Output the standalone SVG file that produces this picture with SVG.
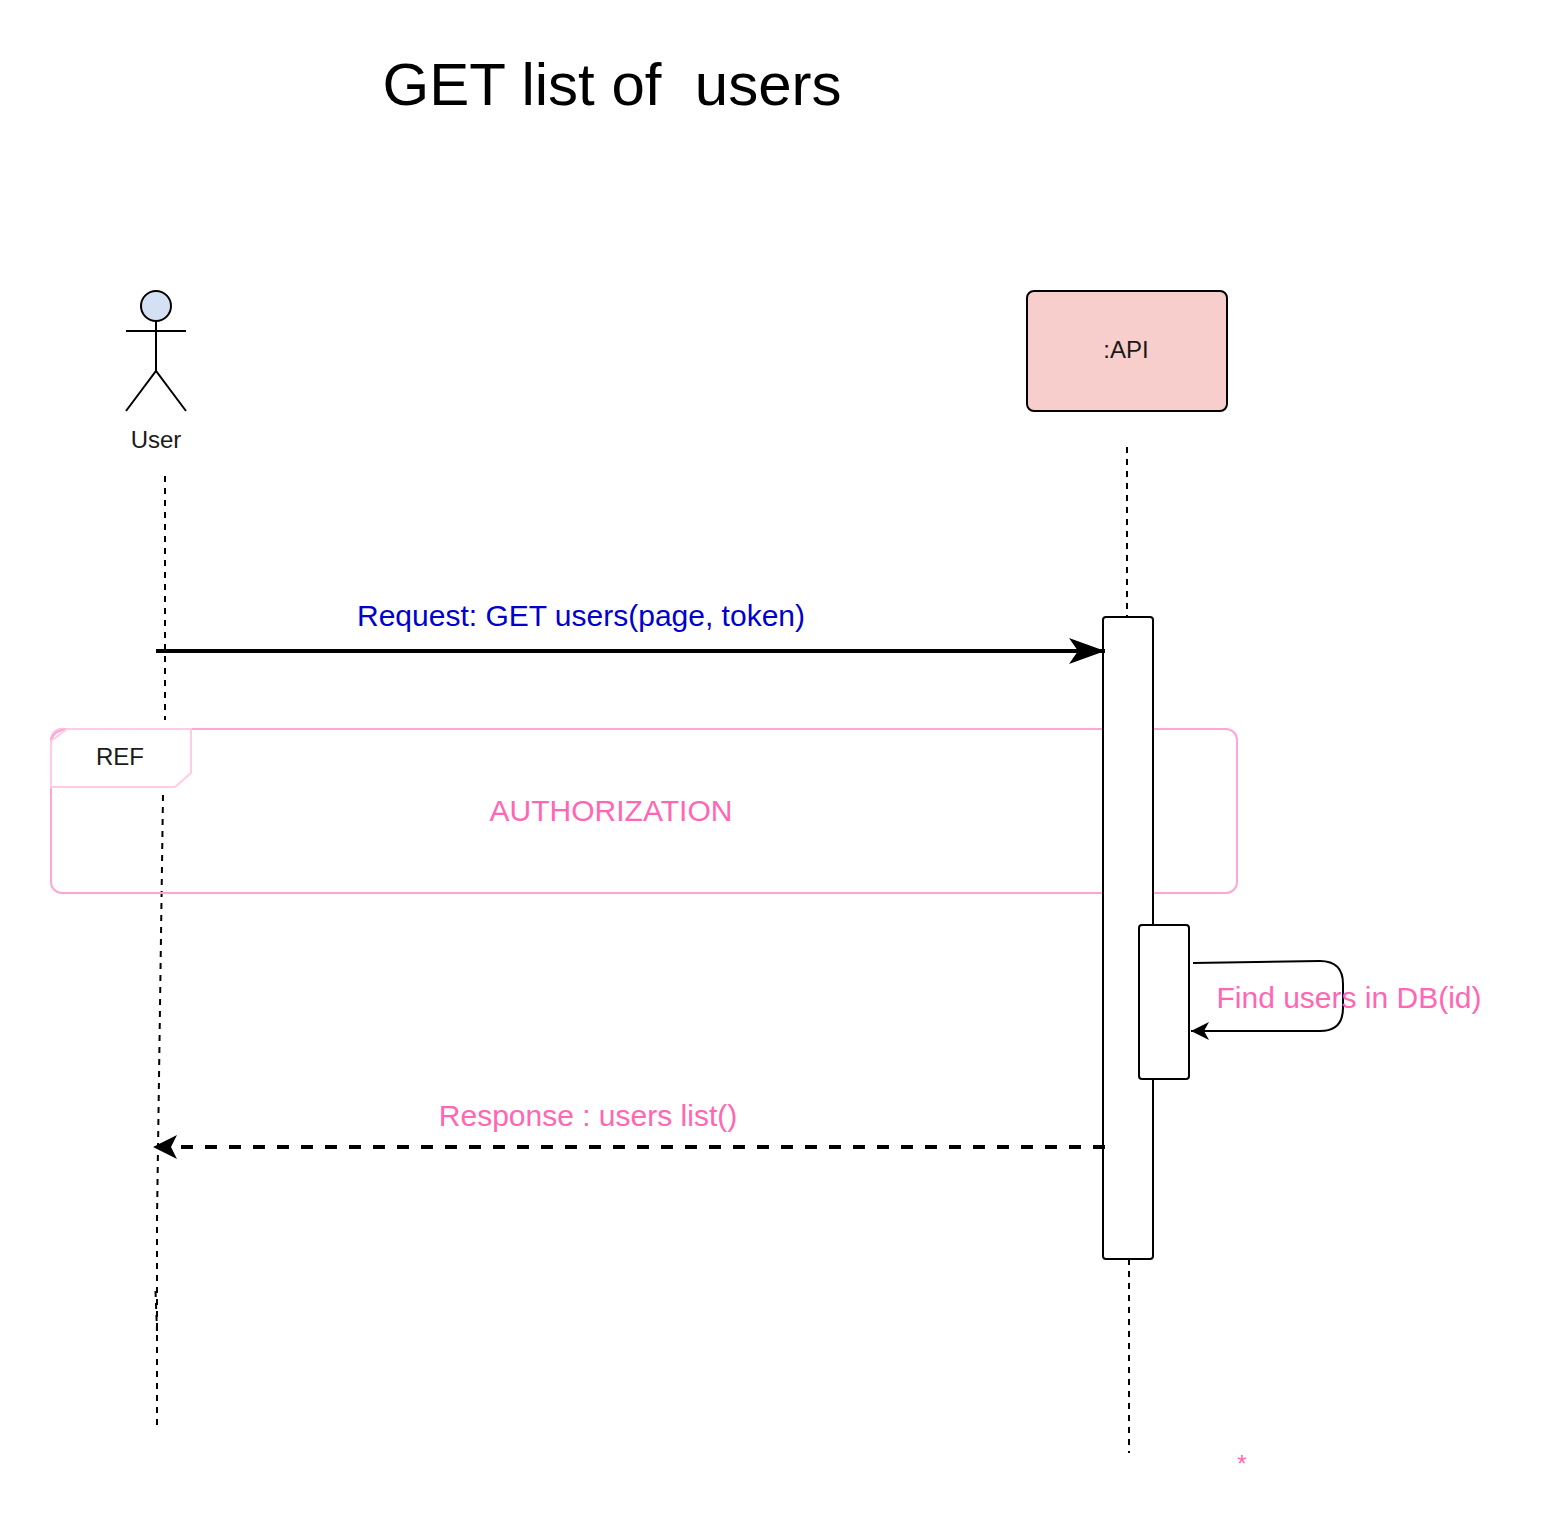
<svg xmlns="http://www.w3.org/2000/svg" width="1544" height="1536" viewBox="0 0 1544 1536">
<style>
text{font-family:"Liberation Sans",Arial,sans-serif;text-anchor:middle}
.life{fill:none;stroke:#000;stroke-width:2;stroke-dasharray:6 6}
.pink{fill:#ff66b3}
.box{fill:#fff;stroke:#000;stroke-width:2}
</style>
<defs>
<marker id="big" markerUnits="userSpaceOnUse" markerWidth="40" markerHeight="30" refX="37" refY="14" orient="auto"><path d="M1 1L37 14L1 27L10 14Z" fill="#000"/></marker>
<marker id="back" markerUnits="userSpaceOnUse" markerWidth="30" markerHeight="30" refX="25" refY="13" orient="auto"><path d="M1 1L25 13L1 25L7 13Z" fill="#000"/></marker>
<marker id="small" markerUnits="userSpaceOnUse" markerWidth="20" markerHeight="20" refX="18" refY="9" orient="auto"><path d="M0 0L18 9L0 18L5 9Z" fill="#000"/></marker>
</defs>
<rect width="1544" height="1536" fill="#fff"/>
<text id="title" x="612" y="105" font-size="60" xml:space="preserve" style="white-space:pre">GET list of  users</text>
<g id="lifelines">
<path class="life" d="M165 476V720"/>
<path class="life" d="M163 794L157 1220V1427" stroke-dashoffset="-1"/>
<path class="life" d="M155.500 1291L157 1331"/>
<path class="life" d="M1127 447V617"/>
<path class="life" d="M1129 1259V1453"/>
</g>
<g id="user">
<circle cx="156" cy="306" r="15" fill="#d4e1f5" stroke="#000" stroke-width="2"/>
<path d="M156 321V371M126 331H186M126 411L156 371L186 411" fill="none" stroke="#000" stroke-width="2"/>
<text x="156" y="448" font-size="24" fill="#1a1a1a">User</text>
</g>
<g id="api">
<rect x="1027" y="291" width="200" height="120" rx="7" fill="#f8cecc" stroke="#000" stroke-width="2"/>
<text x="1126" y="358" font-size="24" fill="#1a1a1a">:API</text>
</g>
<g id="ref">
<rect x="51" y="729" width="1186" height="164" rx="11" fill="none" stroke="#ffa6d5" stroke-width="2"/>
<path d="M62 729H191V773L175 787H51V740Q52 731 62 729Z" fill="#fff" stroke="#ffcce6" stroke-width="2"/>
<path d="M51 741Q53 731 66 729" fill="none" stroke="#ffa6d5" stroke-width="2"/>
<path d="M51 741L67 729" fill="none" stroke="#ffcce6" stroke-width="2"/>
<text x="120" y="765" font-size="24" fill="#1a1a1a">REF</text>
<text class="pink" x="611" y="821" font-size="30">AUTHORIZATION</text>
</g>
<g id="activation">
<rect class="box" x="1103" y="617" width="50" height="642" rx="3"/>
</g>
<g id="activation-inner">
<rect class="box" x="1139" y="925" width="50" height="154" rx="3"/>
</g>
<g id="connectors">
<path d="M156 651H1105" fill="none" stroke="#000" stroke-width="4" marker-end="url(#big)"/>
<path d="M1105 1147H153" fill="none" stroke="#000" stroke-width="4" stroke-dasharray="12 12" marker-end="url(#back)"/>
<path d="M1193 963L1320 961Q1343 961 1343 984V1008Q1343 1031 1320 1031H1191" fill="none" stroke="#000" stroke-width="2" marker-end="url(#small)"/>
</g>
<text x="581" y="626" font-size="30" fill="#0000cc">Request: GET users(page, token)</text>
<text class="pink" x="588" y="1126" font-size="30">Response : users list()</text>
<text class="pink" x="1349" y="1008" font-size="30">Find users in DB(id)</text>
<text class="pink" x="1242" y="1472" font-size="24">*</text>
</svg>
